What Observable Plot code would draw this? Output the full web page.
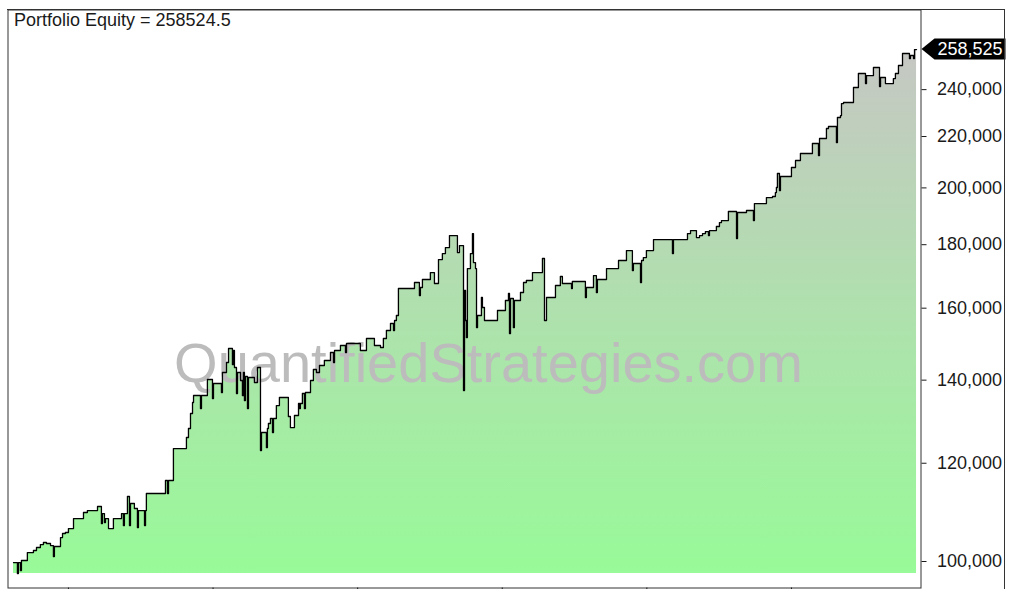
<!DOCTYPE html>
<html><head><meta charset="utf-8">
<script src="https://cdn.jsdelivr.net/npm/d3@7"></script>
<script src="https://cdn.jsdelivr.net/npm/@observablehq/plot@0.6"></script>
<style>
body{margin:0;background:#fff;}
#wrap{position:relative;width:1012px;height:589px;overflow:hidden;}
#border{position:absolute;left:7px;top:9px;width:998px;height:600px;border-top:1px solid #333;border-right:1px solid #333;pointer-events:none;box-sizing:border-box;}
svg{display:block;}
</style></head><body><div id="wrap"><div id="chart"></div><div id="border"></div></div>
<script>
// decimal year of each equity step
const years = [
2017.620,2017.647,2017.654,2017.668,2017.675,2017.716,2017.758,2017.779,2017.806,2017.827,
2017.848,2017.876,2017.896,2017.903,2017.945,2017.959,2017.979,2018.000,2018.035,2018.104,
2018.131,2018.201,2018.228,2018.235,2018.249,2018.256,2018.277,2018.311,2018.367,2018.380,
2018.387,2018.408,2018.422,2018.429,2018.456,2018.477,2018.484,2018.526,2018.533,2018.539,
2018.671,2018.685,2018.692,2018.726,2018.816,2018.830,2018.844,2018.858,2018.865,2018.913,
2018.920,2018.961,2018.996,2019.003,2019.058,2019.065,2019.093,2019.107,2019.134,2019.141,
2019.148,2019.162,2019.169,2019.190,2019.203,2019.210,2019.217,2019.224,2019.238,2019.245,
2019.286,2019.307,2019.328,2019.335,2019.369,2019.376,2019.383,2019.397,2019.411,2019.418,
2019.438,2019.459,2019.521,2019.535,2019.563,2019.591,2019.598,2019.604,2019.618,2019.632,
2019.639,2019.674,2019.694,2019.715,2019.736,2019.770,2019.812,2019.833,2019.840,2019.881,
2019.916,2019.923,2020.006,2020.019,2020.061,2020.116,2020.158,2020.178,2020.199,2020.227,
2020.248,2020.255,2020.268,2020.282,2020.393,2020.427,2020.434,2020.448,2020.503,2020.531,
2020.559,2020.586,2020.607,2020.635,2020.690,2020.704,2020.732,2020.739,2020.746,2020.752,
2020.759,2020.780,2020.794,2020.801,2020.815,2020.822,2020.829,2020.856,2020.863,2020.877,
2020.967,2021.022,2021.043,2021.050,2021.057,2021.077,2021.084,2021.126,2021.147,2021.167,
2021.209,2021.278,2021.292,2021.306,2021.368,2021.402,2021.416,2021.479,2021.485,2021.575,
2021.582,2021.631,2021.651,2021.658,2021.721,2021.804,2021.859,2021.900,2021.907,2021.956,
2021.963,2021.976,2021.997,2022.046,2022.177,2022.184,2022.281,2022.302,2022.343,2022.364,
2022.385,2022.405,2022.426,2022.433,2022.481,2022.502,2022.516,2022.564,2022.620,2022.627,
2022.689,2022.737,2022.744,2022.827,2022.869,2022.889,2022.896,2022.903,2022.917,2022.924,
2023.000,2023.028,2023.062,2023.145,2023.187,2023.194,2023.242,2023.256,2023.311,2023.318,
2023.339,2023.346,2023.360,2023.429,2023.463,2023.512,2023.519,2023.567,2023.609,2023.616,
2023.650,2023.705,2023.719,2023.740,2023.768,2023.816,2023.823,2023.844,2023.851,2023.865
];
// portfolio equity at each step
const equity = [
99810,97800,99810,98340,100190,101680,102060,102630,103200,103590,
103400,103010,100930,102820,104550,105330,105530,106310,108300,109520,
109920,110740,107300,109310,107500,108300,106310,108300,109310,106910,
109310,112820,106910,111360,110330,106510,109920,106910,109920,113450,
116220,113450,116220,123320,125870,127990,131600,134310,136070,132820,
136070,140170,135310,139130,136830,142000,144660,148470,144130,147920,
143330,136570,142000,139910,136070,142000,134810,140950,132820,140690,
139390,143330,122870,127040,123550,127990,129180,130390,127040,130390,
133560,135560,130870,128220,131110,134060,132820,134060,136570,132820,
136830,139910,142790,142000,143860,145200,147370,144660,147920,149300,
147370,149850,149850,147920,151250,149300,148740,151250,153510,155520,
153510,156390,157840,165950,167800,163800,166250,168740,170940,167490,
175110,177070,179050,183080,177400,179720,137330,165330,156390,151520,
172210,177070,183760,174140,172210,154370,157840,163200,160200,156390,
159310,162290,164410,152660,162900,154370,162290,164720,167800,168430,
170940,175440,156390,163200,166870,169680,167490,165950,168110,163200,
166250,169990,164720,168740,172210,174790,178060,171580,173820,167800,
174790,175760,178060,181730,177070,181730,183760,184790,182400,183080,
183760,184450,183080,184790,186170,187550,188250,191430,182070,191070,
191780,188250,194280,196460,196830,198290,200140,205410,199030,204270,
207710,210430,213180,217180,212390,219200,223300,224130,217580,227900,
228740,233890,234330,240940,247280,242730,246360,250050,241390,245450,
242730,244990,247280,250980,256630,254260,255680,254260,258525,258525
];
const yTicks = [100000,120000,140000,160000,180000,200000,220000,240000];
const xTicks = [2018,2019,2020,2021,2022,2023];
const finalEquity = 258524.5;
const titleText = "Portfolio Equity = " + finalEquity;
const watermark = "QuantifiedStrategies.com";

const data = years.map((t,i)=>({t, v: equity[i]}));
const yMin = 97800, yMax = 277950;
const fontFam = "'Liberation Sans', Arial, sans-serif";

const chart = Plot.plot({
  width:1012, height:589,
  marginLeft:7.5, marginRight:91.5, marginTop:9.5, marginBottom:1.5,
  style:{fontFamily:fontFam, fontSize:"18px", color:"#1a1a1a", background:"#fff", overflow:"visible"},
  x:{domain:[years[0], 2023.844], range:[13,913]},
  y:{type:"log", domain:[yMin,yMax], range:[573,10]},
  marks:[
    Plot.areaY(data,{x:"t", y1:yMin, y2:"v", curve:"step-after", fill:"url(#eqGrad)"}),
    Plot.text([watermark], {text:d=>d, frameAnchor:"middle", dx:24, dy:65, fontSize:56, fill:"#bcbcbc"}),
    Plot.lineY(data,{x:"t", y:"v", curve:"step-after", stroke:"#000", strokeWidth:1.3}),
    Plot.frame({stroke:"#333"}),
    Plot.axisY({ticks:yTicks, anchor:"right", tickSize:5, tickPadding:11, tickFormat:d3.format(","), label:null, fontSize:18}),
    Plot.axisX({ticks:xTicks, anchor:"bottom", tickSize:3, tickFormat:()=>"", label:null}),
    Plot.text([titleText], {text:d=>d, frameAnchor:"top-left", dx:6, dy:3.5, lineAnchor:"top", textAnchor:"start", fontSize:18, fill:"#1a1a1a"})
  ]
});
document.getElementById("chart").appendChild(chart);

const svg = d3.select(chart);
const grad = svg.insert("defs",":first-child").append("linearGradient")
  .attr("id","eqGrad").attr("x1",0).attr("y1",0).attr("x2",0).attr("y2",1);
grad.append("stop").attr("offset","0%").attr("stop-color","#c6c7c3");
grad.append("stop").attr("offset","100%").attr("stop-color","#98fa98");

// last-value tag on the right axis
const yS = chart.scale("y");
const ty = yS.apply(equity[equity.length-1]);
const x0 = 1012 - 91.5;
const g = svg.append("g").attr("text-anchor","start");
g.append("path")
  .attr("d",`M${x0+1},${ty} L${x0+14},${ty-10.5} L${x0+85},${ty-10.5} L${x0+85},${ty+10.5} L${x0+14},${ty+10.5} Z`)
  .attr("fill","#000");
g.append("text").attr("x",x0+17).attr("y",ty).attr("dy","0.35em")
  .attr("text-anchor","start")
  .attr("fill","#fff").attr("font-size",18).attr("font-family",fontFam)
  .text(d3.format(",")(Math.round(finalEquity)));
</script></body></html>
